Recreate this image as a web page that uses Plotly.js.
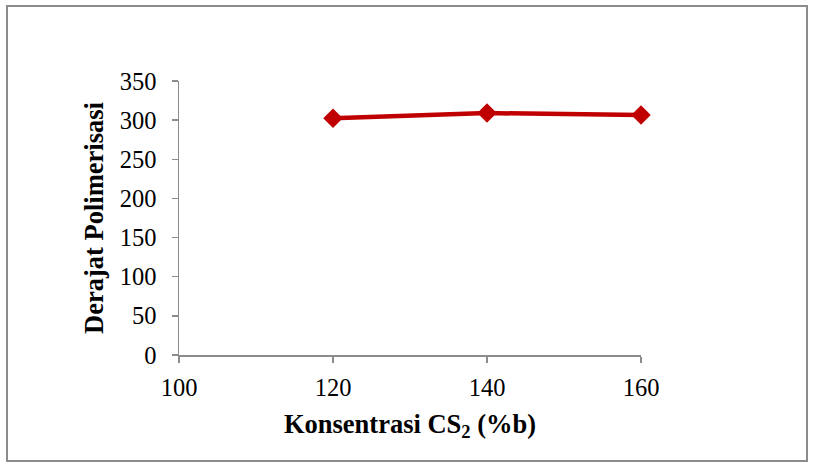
<!DOCTYPE html>
<html>
<head>
<meta charset="utf-8">
<script src="https://cdn.plot.ly/plotly-3.0.1.min.js"></script>
<style>
  html, body { margin: 0; padding: 0; background: #fff; }
  #wrap { position: relative; width: 816px; height: 468px; }
  #chart { position: absolute; left: 0; top: 0; width: 816px; height: 468px; }
  #frame { position: absolute; left: 6px; top: 5px; width: 802px; height: 457px;
           border: 2px solid #8c8c8c; pointer-events: none; box-sizing: border-box; }
</style>
</head>
<body>
<div id="wrap">
  <div id="chart"></div>
  <div id="frame"></div>
</div>
<script>
const concentration = [120, 140, 160];
const polymerization = [302.5, 309, 306.5];
const xTicks = [100, 120, 140, 160];
const yTicks = [0, 50, 100, 150, 200, 250, 300, 350];

const trace = {
  x: concentration,
  y: polymerization,
  type: 'scatter',
  mode: 'lines+markers',
  cliponaxis: false,
  line: { color: '#C00000', width: 4.5 },
  marker: { symbol: 'diamond', size: 15, color: '#C00000' },
  hoverinfo: 'x+y'
};

const layout = {
  width: 816,
  height: 468,
  margin: { l: 179, r: 175, t: 81, b: 113 },
  paper_bgcolor: 'rgba(0,0,0,0)',
  plot_bgcolor: 'rgba(0,0,0,0)',
  showlegend: false,
  font: { family: '"Liberation Serif", "Times New Roman", serif', size: 24, color: '#000' },
  xaxis: {
    range: [100, 160],
    tickvals: xTicks,
    ticktext: xTicks.map(String),
    showgrid: false,
    zeroline: false,
    showline: true,
    linecolor: '#8c8c8c',
    linewidth: 1.5,
    ticks: 'outside',
    ticklen: 6,
    tickcolor: '#8c8c8c',
    tickwidth: 1.5,
    tickfont: { size: 24.5 },
    ticklabelstandoff: 4,
    title: { text: '<b>Konsentrasi CS<sub>2</sub> (%b)</b>', font: { size: 26.5 }, standoff: 14 }
  },
  yaxis: {
    range: [0, 350],
    tickvals: yTicks,
    ticktext: yTicks.map(String),
    showgrid: false,
    zeroline: false,
    showline: true,
    linecolor: '#8c8c8c',
    linewidth: 1.5,
    ticks: 'outside',
    ticklen: 6,
    tickcolor: '#8c8c8c',
    tickwidth: 1.5,
    tickfont: { size: 24.5 },
    ticklabelstandoff: 10,
    title: { text: '<b>Derajat Polimerisasi</b>', font: { size: 26.5 }, standoff: 8 }
  }
};

Plotly.newPlot('chart', [trace], layout, { displayModeBar: false, staticPlot: true });
</script>
</body>
</html>
